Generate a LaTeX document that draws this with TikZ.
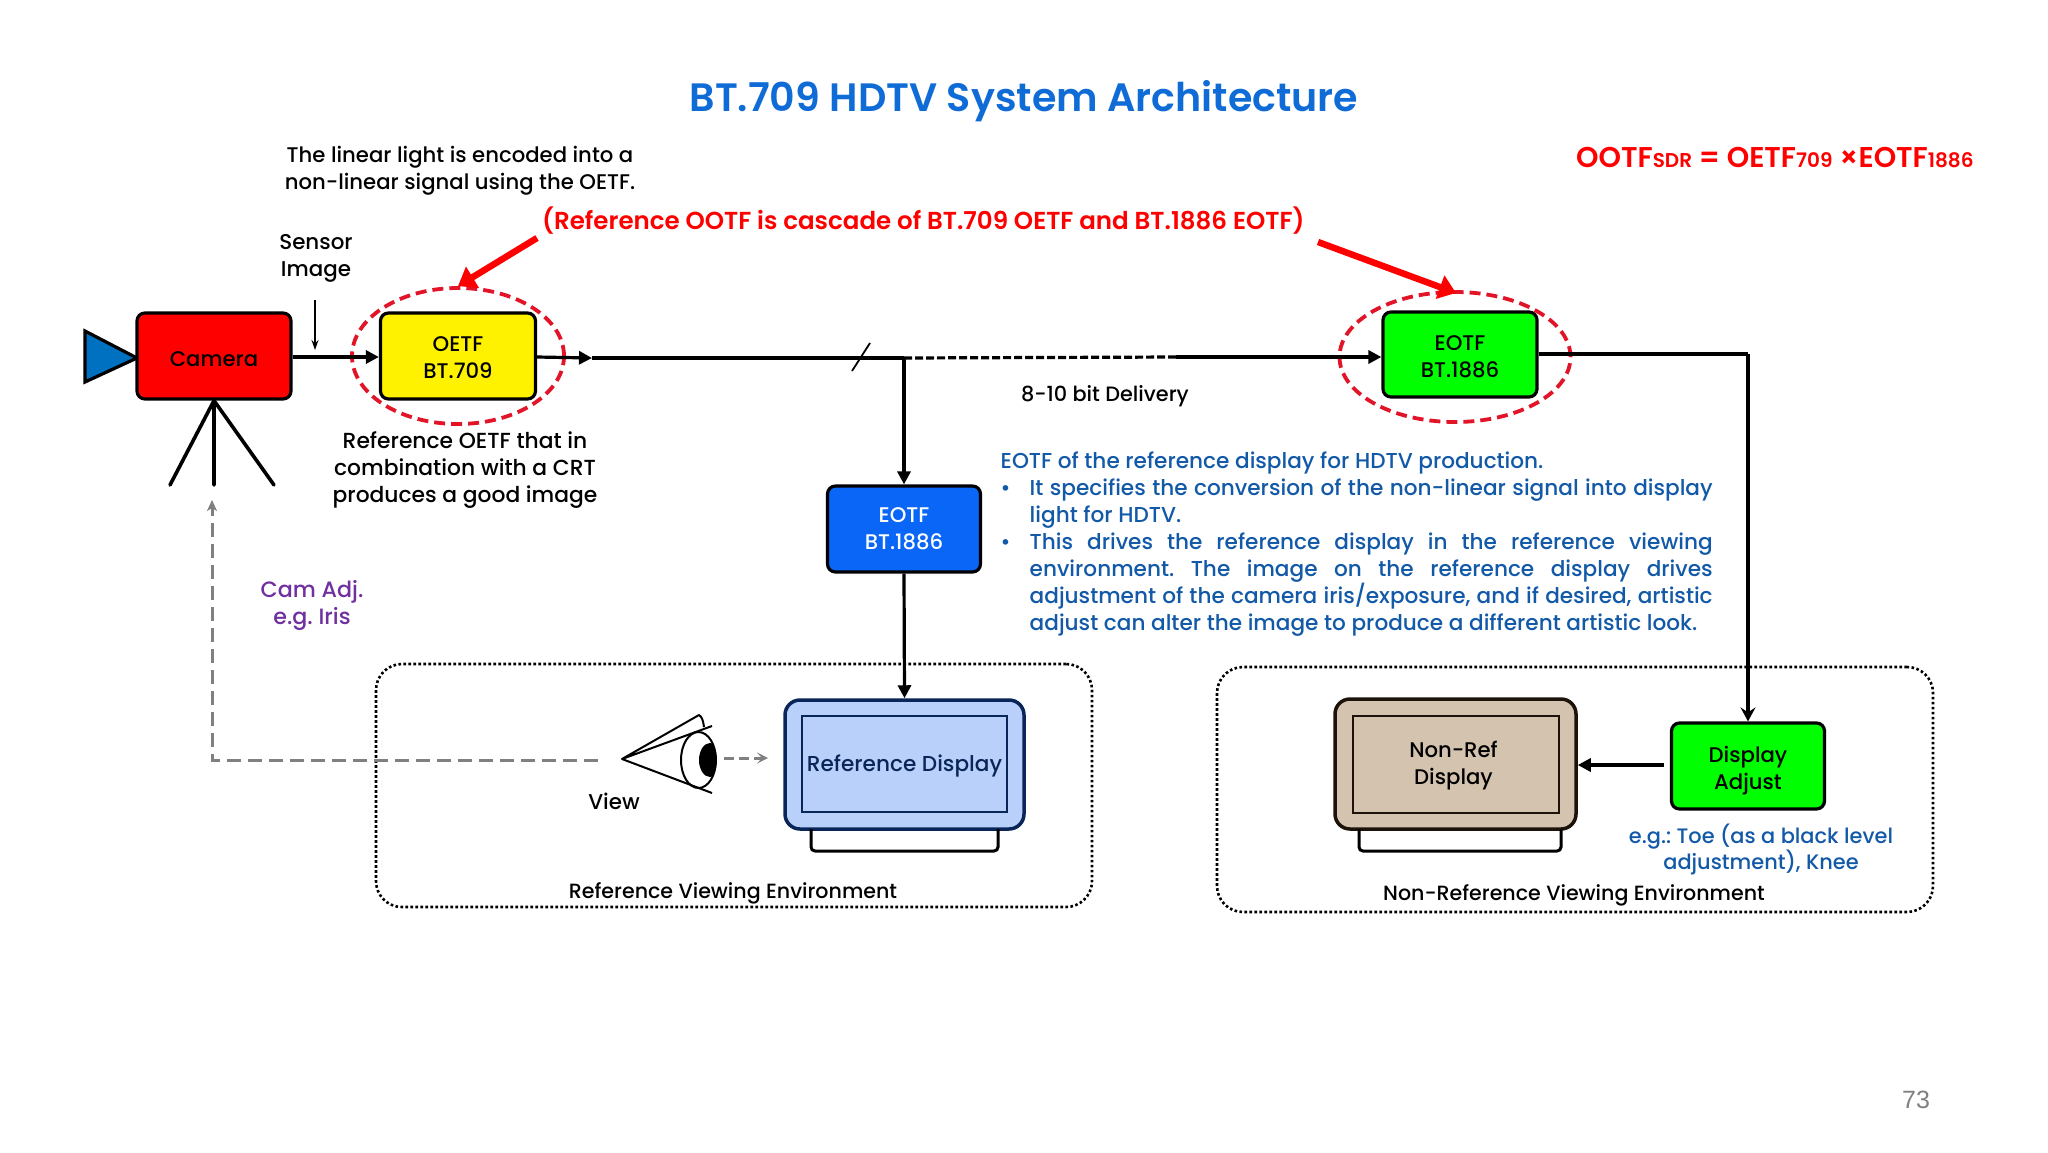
\documentclass[tikz,border=0pt]{standalone}
\usepackage{fontspec}
\setmainfont{Poppins Medium}
\newfontfamily\heavyf{Poppins SemiBold}
\newfontfamily\numfont{Liberation Sans}
\usetikzlibrary{arrows.meta,shapes.geometric,calc}
\definecolor{titleblue}{HTML}{0F6BD6}
\definecolor{txtblue}{HTML}{1259A8}
\definecolor{camblue}{HTML}{0070C0}
\definecolor{boxblue}{HTML}{0A66F7}
\definecolor{dispblue}{HTML}{B9D1FA}
\definecolor{dispedge}{HTML}{0A2558}
\definecolor{beige}{HTML}{D4C3AE}
\definecolor{camadj}{HTML}{7030A0}
\definecolor{gline}{HTML}{808080}
\newcommand{\spreadline}[2]{\makebox[#1][s]{#2}}
\frenchspacing
\tikzset{
  x=1pt,y=-1pt,
  lbl/.style={font=\fontsize{21.4}{27}\selectfont,align=center,inner sep=0pt,text=black,yshift=-2.5pt},
  blk/.style={draw=black,line width=3.2pt,rounded corners=8pt,inner sep=0pt,align=center,
     font=\fontsize{21.2}{27}\selectfont},
  ring/.style={draw={rgb,255:red,226;green,20;blue,40},line width=3.8pt,dash pattern=on 11pt off 6pt,ellipse,inner sep=0pt},
  flow/.style={line width=3.2pt,black,-{Triangle[length=13pt,width=13pt]}},
  plain/.style={line width=3.2pt,black},
  redarrow/.style={line width=6.5pt,red,-{Triangle[length=17pt,width=24pt]}},
  gdash/.style={line width=3pt,gline,dash pattern=on 14pt off 7pt},
  env/.style={draw=black,line width=2.6pt,dash pattern=on 2.6pt off 2.4pt,rounded corners=26pt,inner sep=0pt},
}
\begin{document}
\begin{tikzpicture}
\useasboundingbox (0,0) rectangle (2048,1152);
\fill[white] (0,0) rectangle (2048,1152);
% environments
\node[env,minimum width=716pt,minimum height=243pt] (envref) at (734,785.5) {};
\node[env,minimum width=716pt,minimum height=245pt] (envnon) at (1575,789.5) {};
% title
\node[font=\heavyf\fontsize{39.6}{46}\selectfont,text=titleblue,inner sep=0pt,yshift=-3pt] (title) at (1024,98) {BT.709 HDTV System Architecture};
\node[lbl,font=\fontsize{21.2}{27}\selectfont] (t1) at (460,168) {The linear light is encoded into a\\non-linear signal using the OETF.};
\node[font=\heavyf\fontsize{24.55}{27}\selectfont,text=red,inner sep=0pt,anchor=west] (t2) at (542,221) {(Reference OOTF is cascade of BT.709 OETF and BT.1886 EOTF)};
\node[font=\heavyf\fontsize{28.6}{32}\selectfont,text=red,inner sep=0pt,anchor=west] (t3) at (1576,158) {OOTF{\fontsize{20}{22}\selectfont SDR} = OETF{\fontsize{20}{22}\selectfont 709} ×EOTF{\fontsize{20}{22}\selectfont 1886}};
\node[lbl] (t4) at (316,256) {Sensor\\Image};
% camera
\path[fill=camblue,draw=black,line width=3.2pt,line join=miter] (85,331) -- (85,382) -- (137,358) -- cycle;
\node[blk,fill=red,minimum width=154pt,minimum height=86pt] (cam) at (214,356) {\rule{0pt}{21pt}Camera};
\coordinate (tripodtop) at (cam.south);
\coordinate (leg1) at (170,485);
\coordinate (leg2) at (214,485);
\coordinate (leg3) at (274,485);
\draw[line width=3.6pt,line cap=round] (leg1) -- (tripodtop) -- (leg3) (tripodtop) -- (leg2);
% main boxes
\node[blk,fill=yellow,minimum width=155pt,minimum height=86pt] (oetf) at (458,356) {\rule{0pt}{19pt}OETF\\BT.709};
\node[blk,fill=green,minimum width=154pt,minimum height=85pt] (eotf) at (1460,354.5) {\rule{0pt}{19pt}EOTF\\BT.1886};
\node[blk,fill=boxblue,text=white,minimum width=153pt,minimum height=86pt] (eotfb) at (904,529) {EOTF\\BT.1886};
\node[ring,minimum width=212pt,minimum height=136pt] (r1) at (458,356) {};
\node[ring,minimum width=231pt,minimum height=130pt] (r2) at (1455,357) {};
% sensor arrow
\coordinate (s1) at (315,300);
\coordinate (s2) at (315,350);
\draw[line width=1.6pt,-{Stealth[length=10pt,width=7pt]}] (s1) -- (s2);
% signal path
\coordinate (c1) at (537,357);
\coordinate (c2) at (592,358);
\coordinate (jn) at (904,358);
\coordinate (d2) at (1176,357);
\coordinate (corner) at (1748,354);
\coordinate (tick1) at (870,343);
\coordinate (tick2) at (852,371);
\draw[flow] (cam.east |- 0,357) -- (oetf.west |- 0,357);
\draw[flow] (c1) -- (c2);
\draw[plain] (c2) -- (jn);
\draw[line width=1.8pt] (tick1) -- (tick2);
\draw[plain,dash pattern=on 8pt off 3pt] (jn) -- (d2);
\draw[flow] (d2) -- (eotf.west |- 0,357);
\draw[plain] (eotf.east |- corner) -- (corner);
% lower nodes
\node[draw=dispedge,fill=dispblue,line width=3.5pt,rounded corners=15pt,minimum width=239pt,minimum height=129pt,inner sep=0pt] (dref) at (904.5,764.5) {};
\node[draw=dispedge,line width=1.5pt,minimum width=205pt,minimum height=96pt,inner sep=0pt,text=dispedge,font=\fontsize{21.6}{27}\selectfont] (drefin) at (904.5,764) {\rule{0pt}{21pt}Reference Display};
\draw[line width=3pt,rounded corners=4pt] (811,829) -- (811,851) -- (998,851) -- (998,829);
\node[draw=black!85!brown,fill=beige,line width=3.5pt,rounded corners=15pt,minimum width=241pt,minimum height=130pt,inner sep=0pt] (dnon) at (1455.5,764) {};
\node[draw=black!85!brown,line width=1.5pt,minimum width=206pt,minimum height=97pt,inner sep=0pt,align=center,font=\fontsize{21.2}{27}\selectfont] (dnonin) at (1456,764.5) {\rule{0pt}{18pt}Non-Ref\hspace*{5pt}\\Display\hspace*{5pt}};
\draw[line width=3pt,rounded corners=4pt] (1359,829) -- (1359,851) -- (1561,851) -- (1561,829);
\node[blk,fill=green,minimum width=153pt,minimum height=86pt] (adj) at (1748,766) {\rule{0pt}{25pt}Display\\Adjust};
% connectors
\draw[flow] (jn) -- (eotfb.north);
\draw[flow] (eotfb.south) -- (dref.north);
\draw[line width=3.2pt,black,-{Stealth[length=14pt,width=15pt,inset=5pt]}] (corner) -- (adj.north);
\coordinate (adjout) at (1664,765);
\draw[flow] (adjout) -- (dnon.east |- adjout);
% red arrows
\coordinate (ra1) at (537,238);
\coordinate (ra2) at (1318,242);
\coordinate (ra2t) at (1456,293);
\draw[redarrow] (ra1) -- (r1.north);
\draw[redarrow] (ra2) -- (ra2t);
% eye
\coordinate (apex) at (622,759);
\coordinate (ltop) at (699,715);
\coordinate (ltop2) at (704,727);
\coordinate (lup) at (712,726);
\coordinate (llow) at (712,793);
\draw[line width=2pt,line join=round] (ltop2) .. controls (703,720) and (702,717) .. (ltop) -- (apex) -- (lup) (apex) -- (llow);
\draw[line width=2pt] (698.5,760) ellipse [x radius=17.5,y radius=28];
\begin{scope}
\clip (698.5,760) ellipse [x radius=17.5,y radius=28];
\fill[black] (710,760) ellipse [x radius=11,y radius=17];
\end{scope}
% gray dashed
\coordinate (g1) at (598,760);
\coordinate (g2) at (212,760);
\coordinate (g3) at (212,500);
\draw[gdash,-{Stealth[length=11pt,width=10pt,inset=3pt]}] (g1) -- (g2) -- (g3);
\coordinate (g4) at (724,758);
\coordinate (g5) at (768,758);
\draw[gdash,dash pattern=on 10pt off 5pt,-{Stealth[length=11pt,width=11pt,inset=5pt]}] (g4) -- (g5);
% labels
\node[lbl,font=\fontsize{21.8}{27}\selectfont] (t5) at (465,467.5) {Reference OETF that in\\combination with a CRT\\produces a good image};
\node[lbl,font=\fontsize{20.8}{27}\selectfont] (t6) at (1105,394) {8-10 bit Delivery};
\node[lbl,text=camadj,font=\fontsize{22.2}{27}\selectfont] (t7) at (312,603) {Cam Adj.\\e.g. Iris};
\node[lbl] (t8) at (614,799) {View};
\node[lbl,font=\fontsize{20.6}{27}\selectfont] (t9) at (733,891) {Reference Viewing Environment};
\node[lbl,font=\fontsize{20.6}{27}\selectfont] (t10) at (1574,893) {Non-Reference Viewing Environment};
\node[lbl,text=txtblue,font=\fontsize{20.9}{26}\selectfont] (t11) at (1761,847) {e.g.: Toe (as a black level\\adjustment), Knee};
\node[lbl,text=txtblue,anchor=west,font=\fontsize{21.6}{27}\selectfont] (p0) at (1000.5,460.7) {EOTF of the reference display for HDTV production.};
\node[lbl,text=txtblue] (b1) at (1005.5,488) {•};
\node[lbl,text=txtblue,anchor=north west,align=left,font=\fontsize{21.6}{27}\selectfont] (p1) at (1029.5,476.2) {\spreadline{683pt}{It specifies the conversion of the non-linear signal into display}\\light for HDTV.};
\node[lbl,text=txtblue] (b2) at (1005.5,542) {•};
\node[lbl,text=txtblue,anchor=north west,align=left,font=\fontsize{21.6}{27}\selectfont] (p2) at (1029.5,530.2) {\spreadline{683pt}{This drives the reference display in the reference viewing}\\\spreadline{683pt}{environment. The image on the reference display drives}\\\spreadline{683pt}{adjustment of the camera iris/exposure, and if desired, artistic}\\adjust can alter the image to produce a different artistic look.};
\node[font=\numfont\fontsize{25}{28}\selectfont,text=black!50,inner sep=0pt] (pg) at (1916,1100) {73};
\end{tikzpicture}
\end{document}
